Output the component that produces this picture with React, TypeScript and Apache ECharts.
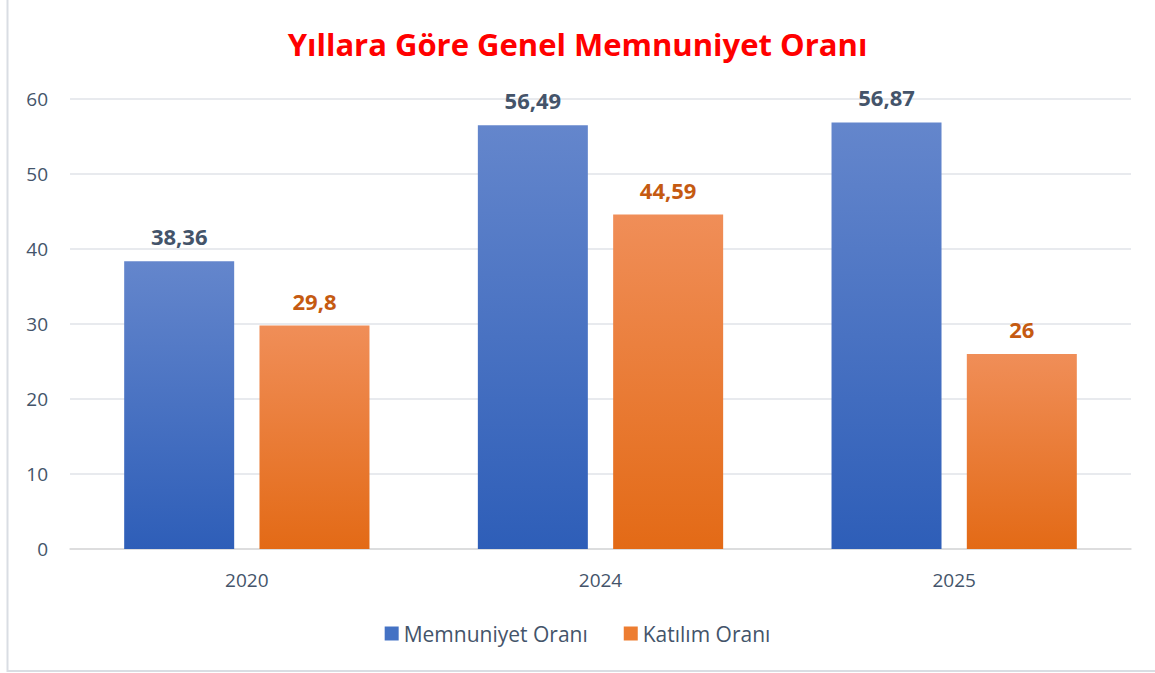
import React, { useEffect, useRef } from "react";
import * as echarts from "echarts";

const years = ["2020", "2024", "2025"];
const memnuniyet = [38.36, 56.49, 56.87];
const katilim = [29.8, 44.59, 26];
const yTicks = { min: 0, max: 60, interval: 10 };

const FONT = "'Open Sans', 'Noto Sans', sans-serif";

const fmt = (v: number) => String(v).replace(".", ",");

export default function App() {
  const ref = useRef<HTMLDivElement>(null);
  useEffect(() => {
    if (!ref.current) return;
    const chart = echarts.init(ref.current, undefined, { renderer: "svg" });
    const blue = new echarts.graphic.LinearGradient(0, 0, 0, 1, [
      { offset: 0, color: "#6486cc" },
      { offset: 1, color: "#2e5eb8" },
    ]);
    const orange = new echarts.graphic.LinearGradient(0, 0, 0, 1, [
      { offset: 0, color: "#f08e58" },
      { offset: 1, color: "#e36a16" },
    ]);
    chart.setOption({
      animation: false,
      backgroundColor: "#ffffff",
      textStyle: { fontFamily: FONT },
      title: {
        text: "Yıllara Göre Genel Memnuniyet Oranı",
        left: "center",
        top: 23,
        textStyle: { color: "#ff0000", fontSize: 31, fontWeight: "bold", fontFamily: FONT },
      },
      graphic: [
        {
          type: "rect",
          shape: { x: 7.5, y: -10, width: 1160, height: 681 },
          style: { fill: "none", stroke: "#d9dde3", lineWidth: 2 },
          silent: true,
        },
      ],
      legend: {
        bottom: 24,
        left: "center",
        itemWidth: 14,
        itemHeight: 14,
        itemGap: 36,
        icon: "rect",
        textStyle: { color: "#44546a", fontSize: 21, fontFamily: FONT },
        data: [
          { name: "Memnuniyet Oranı", itemStyle: { color: "#4472c4" } },
          { name: "Katılım Oranı", itemStyle: { color: "#ed7d31" } },
        ],
      },
      grid: { left: 70, right: 24, top: 99, bottom: 124 },
      xAxis: {
        type: "category",
        data: years,
        axisLine: { lineStyle: { color: "#d9d9d9", width: 1.5 } },
        axisTick: { show: false },
        axisLabel: { color: "#44546a", fontSize: 19, margin: 21, fontFamily: FONT },
      },
      yAxis: {
        type: "value",
        min: yTicks.min,
        max: yTicks.max,
        interval: yTicks.interval,
        axisLine: { show: false },
        axisTick: { show: false },
        splitLine: { lineStyle: { color: "#e0e3e8", width: 1.5 } },
        axisLabel: { color: "#44546a", fontSize: 19, margin: 22, fontFamily: FONT },
      },
      series: [
        {
          name: "Memnuniyet Oranı",
          type: "bar",
          data: memnuniyet,
          barWidth: 110,
          barGap: "23%",
          itemStyle: { color: blue },
          label: {
            show: true,
            position: "top",
            distance: 14,
            color: "#44546a",
            fontSize: 22,
            fontWeight: "bold",
            fontFamily: FONT,
            formatter: (p: any) => fmt(p.value),
          },
        },
        {
          name: "Katılım Oranı",
          type: "bar",
          data: katilim,
          barWidth: 110,
          itemStyle: { color: orange },
          label: {
            show: true,
            position: "top",
            distance: 14,
            color: "#c55a11",
            fontSize: 22,
            fontWeight: "bold",
            fontFamily: FONT,
            formatter: (p: any) => fmt(p.value),
          },
        },
      ],
    });
    return () => chart.dispose();
  }, []);
  return (
    <div
      ref={ref}
      style={{ position: "absolute", left: 0, top: 0, width: 1155, height: 673 }}
    />
  );
}
